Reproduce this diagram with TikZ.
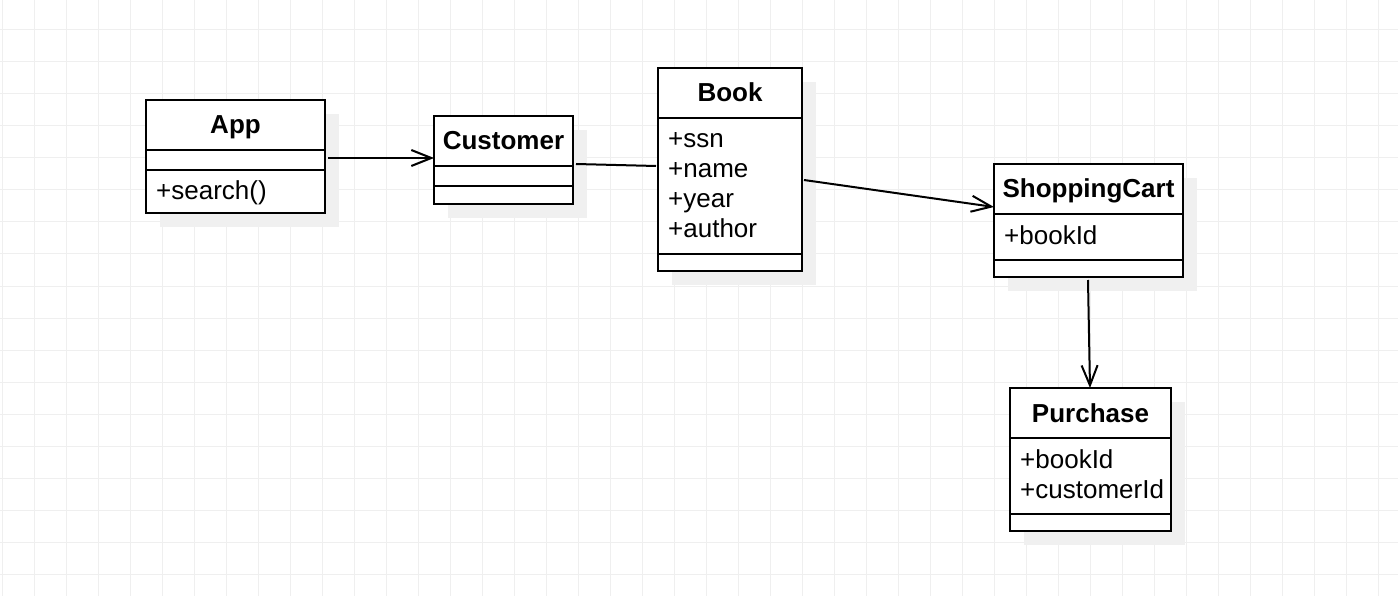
\documentclass[tikz,border=0pt]{standalone}
\usepackage{fontspec}
\setmainfont{Liberation Sans}
\usetikzlibrary{arrows.meta,shadows}
\definecolor{gridc}{HTML}{EFEFEF}
\definecolor{shadowc}{HTML}{F0F0F0}
\begin{document}
\begin{tikzpicture}[x=1pt,y=-1pt,
  cls/.style={draw=black, line width=2pt, fill=white, outer sep=0pt, inner sep=0pt,
    general shadow={fill=shadowc, shadow xshift=14pt, shadow yshift=-14pt}},
  sep/.style={draw=black, line width=2pt},
  title/.style={anchor=base, inner sep=0pt, font=\fontsize{26}{30}\selectfont\bfseries},
  attr/.style={anchor=base west, inner sep=0pt, font=\fontsize{26}{30}\selectfont},
  conn/.style={draw=black, line width=2pt},
  arr/.style={conn, -{Straight Barb[length=20pt,width=16pt]}}]
\fill[white] (0,0) rectangle (1398,596);
\useasboundingbox (0,0) rectangle (1398,596);
% grid
\foreach \gx in {2,34,...,1398} \draw[gridc, line width=1pt] (\gx,0) -- (\gx,596);
\foreach \gy in {30,62,...,596} \draw[gridc, line width=1pt] (0,\gy) -- (1398,\gy);

% App
\node[cls, minimum width=179pt, minimum height=113pt] (app) at (235.5,156.5) {};
\draw[sep] (app.west |- 0,150) -- (app.east |- 0,150);
\draw[sep] (app.west |- 0,170) -- (app.east |- 0,170);
\node[title] (appT) at (235.5,134) {App};
\node[attr] (appA) at (156,200) {+search()};

% Customer
\node[cls, minimum width=139pt, minimum height=88pt] (customer) at (503.5,160) {};
\draw[sep] (customer.west |- 0,166) -- (customer.east |- 0,166);
\draw[sep] (customer.west |- 0,186) -- (customer.east |- 0,186);
\node[title] (custT) at (503.5,150) {Customer};

% Book
\node[cls, minimum width=144pt, minimum height=203pt] (book) at (730,169.5) {};
\draw[sep] (book.west |- 0,118) -- (book.east |- 0,118);
\draw[sep] (book.west |- 0,254) -- (book.east |- 0,254);
\node[title] (bookT) at (730,102) {Book};
\node[attr] (bookA1) at (668,148) {+ssn};
\node[attr] (bookA2) at (668,178) {+name};
\node[attr] (bookA3) at (668,208) {+year};
\node[attr] (bookA4) at (668,238) {+author};

% ShoppingCart
\node[cls, minimum width=189pt, minimum height=113pt] (cart) at (1088.5,220.5) {};
\draw[sep] (cart.west |- 0,214) -- (cart.east |- 0,214);
\draw[sep] (cart.west |- 0,260) -- (cart.east |- 0,260);
\node[title] (cartT) at (1088.5,198) {ShoppingCart};
\node[attr] (cartA1) at (1004,244) {+bookId};

% Purchase
\node[cls, minimum width=161pt, minimum height=143pt] (purchase) at (1090.5,459.5) {};
\draw[sep] (purchase.west |- 0,438) -- (purchase.east |- 0,438);
\draw[sep] (purchase.west |- 0,514) -- (purchase.east |- 0,514);
\node[title] (purT) at (1090.5,422) {Purchase};
\node[attr] (purA1) at (1020,468) {+bookId};
\node[attr] (purA2) at (1020,498) {+customerId};

% connectors
\draw[arr] ([xshift=3pt]app.east |- 0,158) -- (customer.west |- 0,158);
\draw[conn] ([xshift=3pt]customer.east |- 0,164) -- ([xshift=-2pt]book.west |- 0,166);
\draw[arr] ([xshift=2pt]book.east |- 0,180) -- (cart.west |- 0,207);
\draw[arr] ([yshift=-3pt]cart.south -| 1088,0) -- (purchase.north -| 1090,0);
\end{tikzpicture}
\end{document}
